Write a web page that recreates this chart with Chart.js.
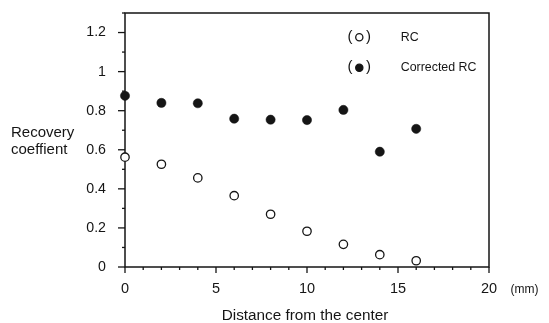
<!DOCTYPE html>
<html>
<head>
<meta charset="utf-8">
<script src="https://cdn.jsdelivr.net/npm/chart.js@4"></script>
<style>
html,body{margin:0;padding:0;background:#fff;}
#wrap{width:549px;height:323px;position:relative;}
</style>
</head>
<body>
<div id="wrap"><canvas id="c" width="549" height="323"></canvas></div>
<script>
// ---- data ----
const distances = [0, 2, 4, 6, 8, 10, 12, 14, 16];
const rcValues = [0.562, 0.526, 0.456, 0.365, 0.270, 0.183, 0.116, 0.063, 0.032];
const correctedRcValues = [0.876, 0.840, 0.838, 0.759, 0.754, 0.752, 0.804, 0.590, 0.707];
const seriesNames = ["RC", "Corrected RC"];
const xTickLabels = [0, 5, 10, 15, 20];
const yTickLabels = [0, 0.2, 0.4, 0.6, 0.8, 1, 1.2];
const xTitle = "Distance from the center";
const yTitleLines = ["Recovery", "coeffient"];
const xUnit = "(mm)";

const FONT = "'Liberation Sans', Arial, Helvetica, sans-serif";
const INK = "#151515";

function toPoints(xs, ys) { return xs.map((x, i) => ({x: x, y: ys[i]})); }

const decorPlugin = {
  id: 'decor',
  beforeDatasetsDraw(chart) {
    const ctx = chart.ctx;
    const a = chart.chartArea;
    const xs = chart.scales.x, ys = chart.scales.y;
    ctx.save();
    ctx.strokeStyle = INK;
    ctx.lineWidth = 1.5;
    ctx.strokeRect(a.left, a.top, a.right - a.left, a.bottom - a.top);
    ctx.lineWidth = 1.3;
    for (let k = 0; k <= 13; k++) {
      const py = ys.getPixelForValue(k / 10);
      const major = (k % 2 === 0);
      ctx.beginPath();
      ctx.moveTo(a.left - (major ? 7 : 3), py);
      ctx.lineTo(a.left, py);
      ctx.stroke();
    }
    for (let k = 0; k <= 20; k++) {
      const px = xs.getPixelForValue(k);
      const major = (k % 5 === 0);
      ctx.beginPath();
      ctx.moveTo(px, a.bottom);
      ctx.lineTo(px, a.bottom + (major ? 6 : 3));
      ctx.stroke();
    }
    ctx.restore();
  },
  afterDraw(chart) {
    const ctx = chart.ctx;
    const a = chart.chartArea;
    ctx.save();
    ctx.fillStyle = INK;
    ctx.font = "15.3px " + FONT;
    ctx.textAlign = "center";
    ctx.textBaseline = "middle";
    ctx.fillText(xTitle, (a.left + a.right) / 2 - 2, 316);
    ctx.font = "15px " + FONT;
    ctx.textAlign = "left";
    ctx.fillText(yTitleLines[0], 11, 133);
    ctx.fillText(yTitleLines[1], 11, 149.5);
    ctx.font = "12px " + FONT;
    ctx.fillText(xUnit, 510.5, 289.5);
    const rows = [36.7, 67.3];
    chart.data.datasets.forEach((ds, i) => {
      const y = rows[i];
      ctx.font = "15px " + FONT;
      ctx.textAlign = "center";
      ctx.fillStyle = INK;
      ctx.fillText("(", 350, y);
      ctx.fillText(")", 368.5, y);
      ctx.beginPath();
      ctx.arc(359.3, y + 0.5, 3.6, 0, Math.PI * 2);
      ctx.fillStyle = ds.pointBackgroundColor;
      ctx.fill();
      ctx.lineWidth = 1.3;
      ctx.strokeStyle = INK;
      ctx.stroke();
      ctx.fillStyle = INK;
      ctx.textAlign = "left";
      ctx.font = "12.4px " + FONT;
      ctx.fillText(ds.label, 400.7, y + 0.5);
    });
    ctx.restore();
  }
};

new Chart(document.getElementById('c'), {
  type: 'scatter',
  data: {
    datasets: [
      {
        label: seriesNames[0],
        data: toPoints(distances, rcValues),
        pointStyle: 'circle',
        pointRadius: 4.2,
        pointHoverRadius: 4.2,
        pointBackgroundColor: '#ffffff',
        pointBorderColor: INK,
        pointBorderWidth: 1.3,
        clip: false
      },
      {
        label: seriesNames[1],
        data: toPoints(distances, correctedRcValues),
        pointStyle: 'circle',
        pointRadius: 4.6,
        pointHoverRadius: 4.6,
        pointBackgroundColor: INK,
        pointBorderColor: INK,
        pointBorderWidth: 0.5,
        clip: false
      }
    ]
  },
  options: {
    responsive: false,
    animation: false,
    events: [],
    layout: { padding: { left: 0, top: 13, right: 60, bottom: 0 } },
    plugins: { legend: { display: false }, tooltip: { enabled: false }, title: { display: false } },
    scales: {
      x: {
        type: 'linear',
        min: 0, max: 20,
        grid: { display: false },
        border: { display: false },
        afterFit(s) { s.height = 56; s.paddingLeft = 0; s.paddingRight = 0; },
        afterBuildTicks(s) { s.ticks = xTickLabels.map(v => ({value: v})); },
        ticks: {
          padding: 5,
          color: INK,
          font: { family: FONT, size: 14.5 },
          maxRotation: 0,
          autoSkip: false,
          callback: v => String(v)
        }
      },
      y: {
        type: 'linear',
        min: 0, max: 1.3,
        grid: { display: false },
        border: { display: false },
        afterFit(s) { s.width = 125; s.paddingTop = 0; s.paddingBottom = 0; },
        afterBuildTicks(s) { s.ticks = yTickLabels.map(v => ({value: v})); },
        ticks: {
          padding: 11,
          color: INK,
          font: { family: FONT, size: 14.2 },
          autoSkip: false,
          callback: v => String(Math.round(v * 10) / 10)
        }
      }
    }
  },
  plugins: [decorPlugin]
});
</script>
</body>
</html>
